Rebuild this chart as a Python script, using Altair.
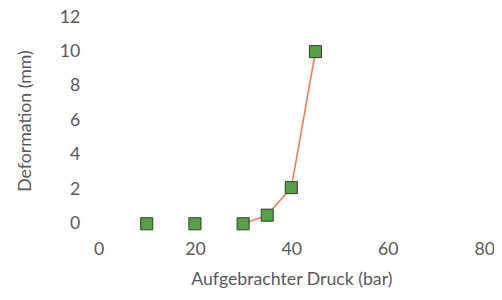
import altair as alt
import pandas as pd

druck = [10, 20, 30, 35, 40, 45]
deformation = [0, 0, 0, 0.5, 2.1, 10]

df = pd.DataFrame({"druck": druck, "deformation": deformation})

FONT = "Lato"
GRAY = "#595959"

x = alt.X("druck:Q", title="Aufgebrachter Druck (bar)",
          scale=alt.Scale(domain=[0, 80], nice=False),
          axis=alt.Axis(values=[0, 20, 40, 60, 80], domain=False, ticks=False, grid=False,
                        labelFlush=False, labelPadding=17, titlePadding=13,
                        labelFontSize=18, titleFontSize=18,
                        labelColor=GRAY, titleColor=GRAY, labelFont=FONT, titleFont=FONT,
                        titleFontWeight="normal"))
y = alt.Y("deformation:Q", title="Deformation (mm)",
          scale=alt.Scale(domain=[0, 12], nice=False),
          axis=alt.Axis(values=[0, 2, 4, 6, 8, 10, 12], domain=False, ticks=False, grid=False,
                        labelFlush=False, labelPadding=19, titlePadding=25,
                        labelFontSize=18, titleFontSize=18,
                        labelColor=GRAY, titleColor=GRAY, labelFont=FONT, titleFont=FONT,
                        titleFontWeight="normal"))

line = alt.Chart(df).transform_filter("datum.druck >= 30").mark_line(
    color="#F27B55", strokeWidth=1.6
).encode(x=x, y=y)

pts = alt.Chart(df).mark_point(
    shape="square", filled=True, size=150, fill="#56A046", stroke="#2E3B2A",
    strokeWidth=1, opacity=1
).encode(x=x, y=y)

chart = alt.layer(line, pts).properties(
    width=392, height=210,
    autosize=alt.AutoSizeParams(type="none"),
    padding={"left": 92, "top": 7, "right": 10, "bottom": 67},
).configure_view(stroke=None)

chart.save("out.html", embed_options={"renderer": "svg", "actions": False})
